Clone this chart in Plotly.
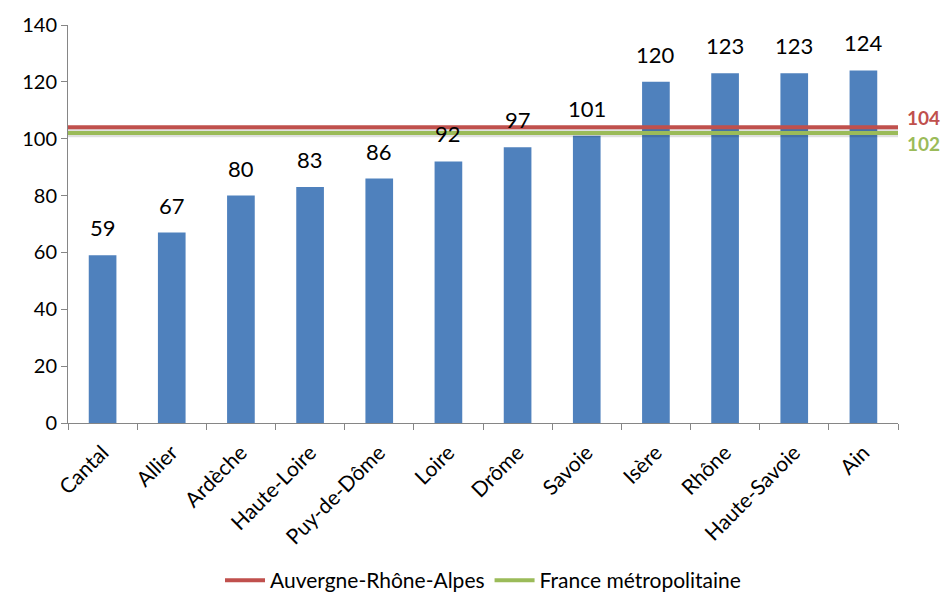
import plotly.graph_objects as go

departements = ["Cantal", "Allier", "Ardèche", "Haute-Loire", "Puy-de-Dôme", "Loire",
                "Drôme", "Savoie", "Isère", "Rhône", "Haute-Savoie", "Ain"]
valeurs = [59, 67, 80, 83, 86, 92, 97, 101, 120, 123, 123, 124]
ref_aura = 104
ref_france = 102
y_ticks = [0, 20, 40, 60, 80, 100, 120, 140]

FONT = "Lato, Open Sans, sans-serif"
RED = "#C0504D"
GREEN = "#9BBB59"

fig = go.Figure()
fig.add_trace(go.Bar(
    x=departements, y=valeurs, marker=dict(color="#4F81BD", line=dict(width=0)),
    showlegend=False,
))
# shadow lines
for val in (ref_aura, ref_france):
    fig.add_trace(go.Scatter(x=[0, 1], y=[val - 0.6, val - 0.6], xaxis="x2", mode="lines",
                             line=dict(color="rgba(0,0,0,0.12)", width=5),
                             showlegend=False, hoverinfo="skip"))
fig.add_trace(go.Scatter(x=[0, 1], y=[ref_aura, ref_aura], xaxis="x2", mode="lines",
                         line=dict(color=RED, width=4), name="Auvergne-Rhône-Alpes"))
fig.add_trace(go.Scatter(x=[0, 1], y=[ref_france, ref_france], xaxis="x2", mode="lines",
                         line=dict(color=GREEN, width=4), name="France métropolitaine"))

for d, v in zip(departements, valeurs):
    fig.add_annotation(x=d, y=v, xref="x", yref="y", text=str(v), showarrow=False,
                       yanchor="bottom", yshift=12,
                       font=dict(size=22, color="#000000", family=FONT))

fig.add_annotation(x=1, xref="x2", y=ref_aura, yref="y", text=f"<b>{ref_aura}</b>",
                   showarrow=False, xanchor="left", xshift=8, yshift=10, borderpad=0,
                   font=dict(size=19, color=RED, family=FONT))
fig.add_annotation(x=1, xref="x2", y=ref_france, yref="y", text=f"<b>{ref_france}</b>",
                   showarrow=False, xanchor="left", xshift=8, yshift=-10, borderpad=0,
                   font=dict(size=19, color=GREEN, family=FONT))

fig.update_layout(
    width=946, height=601,
    margin=dict(l=68, r=48, t=25, b=178),
    plot_bgcolor="white", paper_bgcolor="white",
    bargap=0.6,
    font=dict(family=FONT, size=20, color="#000000"),
    xaxis=dict(
        type="category", showline=True, linecolor="#868686", linewidth=1,
        ticks="outside", tickson="boundaries", ticklen=6, tickcolor="#868686",
        tickangle=-45, tickfont=dict(size=21, family=FONT), showgrid=False,
        automargin=False, ticklabelstandoff=8,
    ),
    xaxis2=dict(overlaying="x", range=[0, 1], visible=False, fixedrange=True),
    yaxis=dict(
        range=[0, 140], tickvals=y_ticks, showline=True, linecolor="#868686", linewidth=1,
        ticks="outside", ticklen=6, tickcolor="#868686", showgrid=False, zeroline=False,
        tickfont=dict(size=20, family=FONT), automargin=False,
    ),
    legend=dict(orientation="h", x=0.5, xanchor="center", yref="container", y=0.0,
                yanchor="bottom", font=dict(size=21, family=FONT), itemwidth=40,
                traceorder="normal"),
)

fig.write_html("out.html")
